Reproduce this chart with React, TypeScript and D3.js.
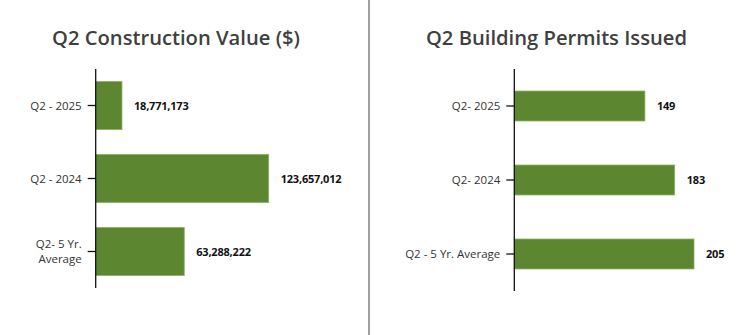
import React from "react";
import * as d3 from "d3";

const valueCategories = ["Q2 - 2025", "Q2 - 2024", "Q2- 5 Yr.|Average"];
const valueSeries = [18771173, 123657012, 63288222];
const valueLabels = ["18,771,173", "123,657,012", "63,288,222"];

const permitCategories = ["Q2- 2025", "Q2- 2024", "Q2 - 5 Yr. Average"];
const permitSeries = [149, 183, 205];
const permitLabels = ["149", "183", "205"];

const W = 750;
const H = 335;
const FONT = "'Open Sans', 'Noto Sans', sans-serif";
const BAR = "#5d8630";
const EDGE = "#8fb064";

type PanelProps = {
  title: string;
  titleX: number;
  cats: string[];
  vals: number[];
  labels: string[];
  axisX: number;
  y0: number;
  y1: number;
  xMaxPx: number;
  padInner: number;
};

function Panel({ title, titleX, cats, vals, labels, axisX, y0, y1, xMaxPx, padInner }: PanelProps) {
  const y = d3.scaleBand<string>().domain(cats).range([y0, y1]).paddingInner(padInner).paddingOuter(padInner / 2);
  const maxV = d3.max(vals) as number;
  const x = d3.scaleLinear().domain([0, maxV]).range([axisX, axisX + xMaxPx]);
  return (
    <g>
      <text x={titleX} y={45} textAnchor="middle" fontFamily={FONT} fontWeight={600} fontSize={20.2} fill="#3f3f3f">
        {title}
      </text>
      {cats.map((c, i) => {
        const yy = y(c) as number;
        const bw = y.bandwidth();
        const cy = yy + bw / 2;
        const lines = c.split("|");
        return (
          <g key={c}>
            <rect x={axisX} y={yy} width={x(vals[i]) - axisX} height={bw} fill={BAR} stroke={EDGE} strokeWidth={0.8} />
            <line x1={axisX - 8} x2={axisX} y1={cy} y2={cy} stroke="#111" strokeWidth={1.3} />
            <text
              textAnchor="end"
              fontFamily={FONT}
              fontSize={11.5}
              fill="#333"
              x={axisX - 14}
              y={cy + 4 - ((lines.length - 1) * 15) / 2}
            >
              {lines.map((l, k) => (
                <tspan key={k} x={axisX - 14} dy={k === 0 ? 0 : 15}>
                  {l}
                </tspan>
              ))}
            </text>
            <text x={x(vals[i]) + 12} y={cy + 4} fontFamily={FONT} fontWeight={700} fontSize={11} letterSpacing={-0.2} fill="#111">
              {labels[i]}
            </text>
          </g>
        );
      })}
      <line x1={axisX} x2={axisX} y1={y0} y2={y1} stroke="#111" strokeWidth={1.3} />
    </g>
  );
}

export default function App() {
  return (
    <svg width={W} height={H} style={{ position: "absolute", left: 0, top: 0, background: "#fff" }}>
      <rect x={0} y={0} width={W} height={H} fill="#fff" />
      <line x1={369} x2={369} y1={0} y2={H} stroke="#a0a0a0" strokeWidth={2} />
      <Panel
        title="Q2 Construction Value ($)"
        titleX={176}
        cats={valueCategories}
        vals={valueSeries}
        labels={valueLabels}
        axisX={95.7}
        y0={69}
        y1={288}
        xMaxPx={173}
        padInner={0.34}
      />
      <Panel
        title="Q2 Building Permits Issued"
        titleX={556.5}
        cats={permitCategories}
        vals={permitSeries}
        labels={permitLabels}
        axisX={514.3}
        y0={69}
        y1={291}
        xMaxPx={179.7}
        padInner={0.595}
      />
    </svg>
  );
}
